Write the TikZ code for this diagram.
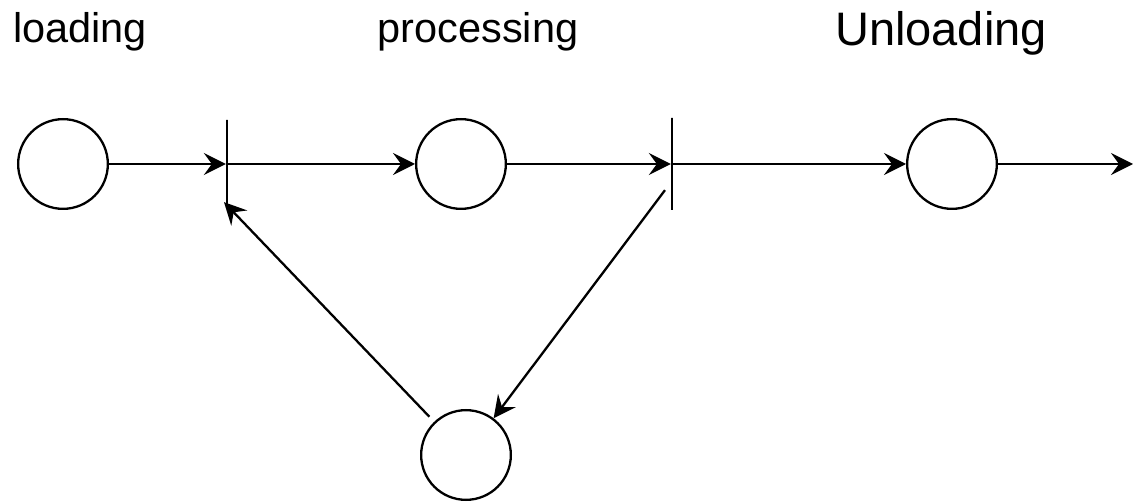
\documentclass[tikz,border=0pt]{standalone}
\usepackage{fontspec}
\setmainfont{Liberation Sans}
\usetikzlibrary{positioning,calc,arrows.meta}
\tikzset{>={Stealth[length=22pt,width=22pt,inset=8pt]}}

\begin{document}
\begin{tikzpicture}[x=1pt,y=1pt,line width=2.3pt,
  place/.style={draw,circle,minimum size=89.7pt,inner sep=0pt},
  bar/.style={draw,inner sep=0pt,minimum width=0pt,minimum height=#1},
  lbl/.style={anchor=base,font=\fontsize{41.5}{46}\selectfont}]
\useasboundingbox (0,0) rectangle (1133,501);
% places and transitions
\node[place] (load) at (63,337) {};
\node[bar=88pt] (t1) at (227,337) {};
\node[place] (proc) at (461,337) {};
\node[bar=92pt] (t2) at (672,337) {};
\node[place] (unload) at (952,337) {};
\node[place] (wait) at (466,46) {};
\coordinate (exit) at (1133,337);
\coordinate (t1in) at ($(t1.south)+(-3,7)$);
\coordinate (t2out) at ($(t2.south)+(-7,21)$);
% labels
\node[lbl] (loadlbl) at (80,458.7) {loading};
\node[lbl] (proclbl) at (478,458.7) {processing};
\node[lbl,font=\fontsize{47}{52}\selectfont] (unloadlbl) at (941,455.3) {Unloading};
% arcs
\draw[->] (load) -- (t1);
\draw[->] (t1) -- (proc);
\draw[->] (proc) -- (t2);
\draw[->] (t2) -- (unload);
\draw[->] (unload) -- (exit);
\draw[->] (t2out) -- (wait);
\draw[->,shorten <=7pt] (wait) -- (t1in);
\end{tikzpicture}
\end{document}
